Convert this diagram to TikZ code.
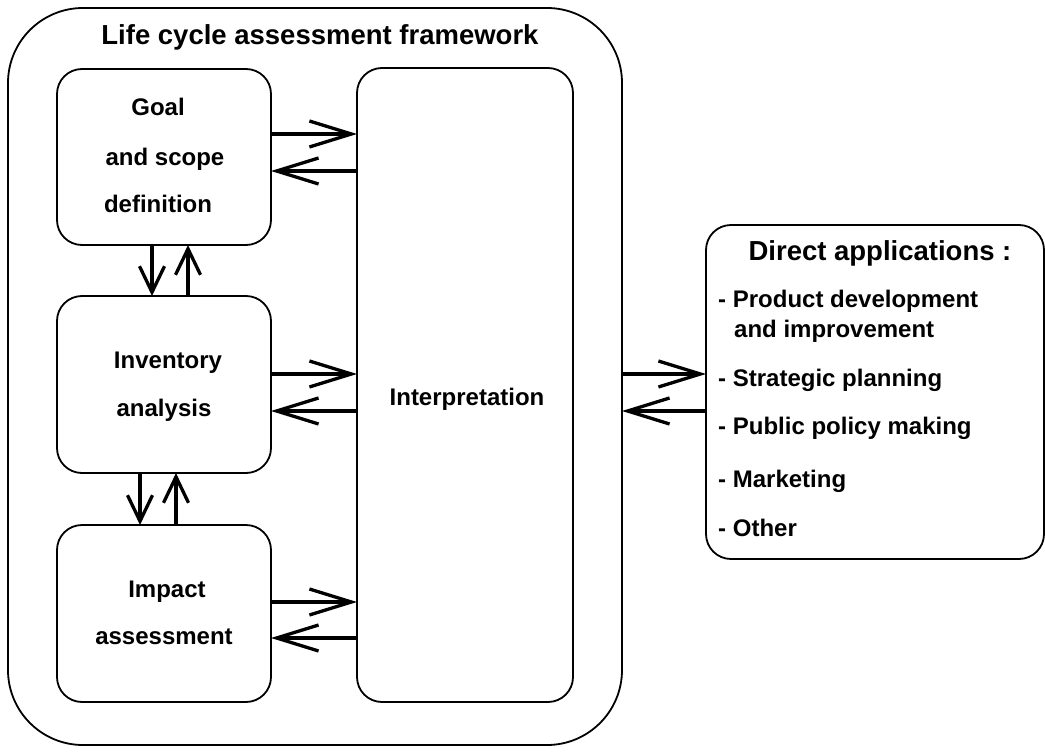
\documentclass[tikz,border=0pt]{standalone}
\usepackage{fontspec}
\setmainfont{Liberation Sans}
\usetikzlibrary{arrows.meta}
\begin{document}
\begin{tikzpicture}[x=1pt,y=-1pt,
  boxnode/.style={draw, line width=1.8pt, inner sep=0pt, outer sep=0pt, rounded corners=#1},
  boxnode/.default=25pt,
  txt/.style={anchor=base, inner sep=0pt, font=\fontsize{24}{28}\selectfont\bfseries},
  ltxt/.style={anchor=base west, inner sep=0pt, font=\fontsize{24}{28}\selectfont\bfseries},
  harr/.style={line width=3.3pt, -{Straight Barb[length=42pt,width=26pt,line width=3.3pt]}},
  varr/.style={line width=3.3pt, -{Straight Barb[length=26pt,width=25pt,line width=3.3pt]}}
]
\useasboundingbox (0,0) rectangle (1045,752);
% outer frame
\node[boxnode=75pt, minimum width=614pt, minimum height=737pt] (outer) at (315,376.5) {};
\node[anchor=base, inner sep=0pt, font=\fontsize{27.5}{32}\selectfont\bfseries] (title) at (320,45) {Life cycle assessment framework};
% inner boxes
\node[boxnode, minimum width=214pt, minimum height=176pt] (goal) at (164,157) {};
\node[boxnode, minimum width=214pt, minimum height=177pt] (inv) at (164,384.5) {};
\node[boxnode, minimum width=214pt, minimum height=177pt] (imp) at (164,613.5) {};
\node[boxnode, minimum width=216pt, minimum height=634pt] (interp) at (465,385) {};
\node[boxnode, minimum width=338pt, minimum height=334pt] (apps) at (875,392) {};
% texts
\node[txt] (g1) at (158,116) {Goal};
\node[txt] (g2) at (165,165) {and scope};
\node[txt] (g3) at (158,212) {definition};
\node[txt] (i1) at (168,368) {Inventory};
\node[txt] (i2) at (164,416) {analysis};
\node[txt] (m1) at (167,597) {Impact};
\node[txt] (m2) at (164,644) {assessment};
\node[txt] (it) at (467,405) {Interpretation};
\node[anchor=base, inner sep=0pt, font=\fontsize{27.5}{32}\selectfont\bfseries] (da) at (880,260) {Direct applications :};
\node[ltxt] (a1) at (718,307) {- Product development};
\node[ltxt] (a1b) at (734,337) {and improvement};
\node[ltxt] (a2) at (718,386) {- Strategic planning};
\node[ltxt] (a3) at (718,434) {- Public policy making};
\node[ltxt] (a4) at (718,487) {- Marketing};
\node[ltxt] (a5) at (718,536) {- Other};
% arrow levels
\coordinate (ya) at (0,134);
\coordinate (yb) at (0,171);
\coordinate (yc) at (0,374);
\coordinate (yd) at (0,411);
\coordinate (ye) at (0,602);
\coordinate (yf) at (0,638);
% horizontal arrows
\draw[harr] (goal.east |- ya) -- (interp.west |- ya);
\draw[harr] (interp.west |- yb) -- (goal.east |- yb);
\draw[harr] (inv.east |- yc) -- (interp.west |- yc);
\draw[harr] (interp.west |- yd) -- (inv.east |- yd);
\draw[harr] (imp.east |- ye) -- (interp.west |- ye);
\draw[harr] (interp.west |- yf) -- (imp.east |- yf);
\draw[harr] (outer.east |- yc) -- (apps.west |- yc);
\draw[harr] (apps.west |- yd) -- (outer.east |- yd);
% vertical arrows
\draw[varr] ([xshift=-12pt]goal.south) -- ([xshift=-12pt]inv.north);
\draw[varr] ([xshift=24pt]inv.north) -- ([xshift=24pt]goal.south);
\draw[varr] ([xshift=-24pt]inv.south) -- ([xshift=-24pt]imp.north);
\draw[varr] ([xshift=12pt]imp.north) -- ([xshift=12pt]inv.south);
\end{tikzpicture}
\end{document}
